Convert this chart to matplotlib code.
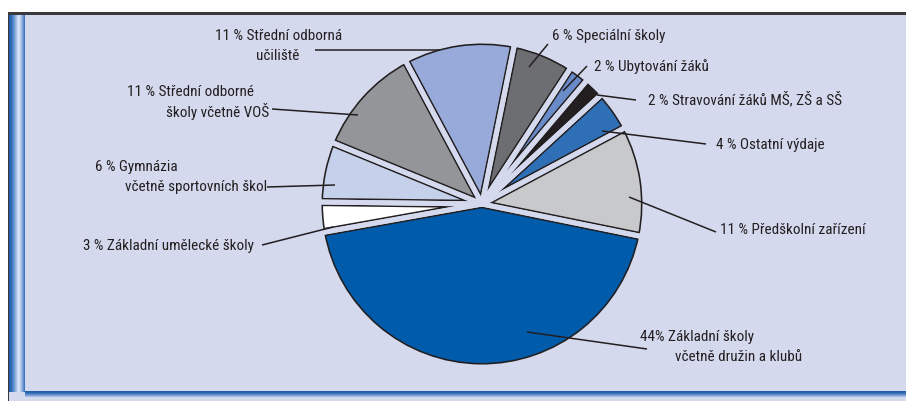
import numpy as np
import matplotlib
matplotlib.use("Agg")
import matplotlib.pyplot as plt
from matplotlib import font_manager as fm
from matplotlib.patches import Wedge, Rectangle
from matplotlib.colors import LinearSegmentedColormap

# shares of school spending (%), counter-clockwise from the right side
labels = [
    ["11 % Předškolní zařízení"],
    ["4 % Ostatní výdaje"],
    ["2 % Stravování žáků MŠ, ZŠ a SŠ"],
    ["2 % Ubytování žáků"],
    ["6 % Speciální školy"],
    ["11 % Střední odborná", "učiliště"],
    ["11 % Střední odborné", "školy včetně VOŠ"],
    ["6 % Gymnázia", "včetně sportovních škol"],
    ["3 % Základní umělecké školy"],
    ["44% Základní školy", "včetně družin a klubů"],
]
values = [11, 4, 2, 2, 6, 11, 11, 6, 3, 44]
colors = ["#c8c9cb", "#2f6fb6", "#231f20", "#6a8bc9", "#6d6e71",
          "#97aad9", "#939598", "#c5d0ea", "#ffffff", "#005bab"]
explode = [0.035, 0.035, 0.035, 0.035, 0.035, 0.035, 0.035, 0.035, 0.035, 0.055]

# text placement in picture pixels (left x, centre y of each line)
text_pos = [
    [(720, 230)],
    [(716, 145)],
    [(648, 99)],
    [(594, 67)],
    [(552, 36)],
    [(215, 36), (256, 56)],
    [(127, 92), (166, 111)],
    [(95, 167), (125, 187)],
    [(83, 246)],
    [(640, 337), (675, 357)],
]
leaders = [
    ((716, 233), (629, 198)),
    ((706, 145), (602, 132)),
    ((636, 101), (597, 96)),
    ((587, 67), (563, 92)),
    ((548, 45), (529, 68)),
    ((315, 51), (440, 51)),
    ((272, 110), (358, 116)),
    ((267, 188), (335, 186)),
    ((262, 246), (333, 228)),
    ((527, 333), (647, 350)),
]

W, H = 906, 402
bg = "#d4d9ee"
ink = "#231f20"

def Y(y):
    return H - y

# pick a narrow face if one is installed
fonts = fm.fontManager.ttflist
names = {f.name for f in fonts}
font_kw = dict(family="Roboto", fontsize=9.8)
for cand in ["Liberation Sans Narrow", "Roboto Condensed", "Open Sans Condensed"]:
    if cand in names:
        font_kw = dict(family=cand, fontsize=10.9)
        break
else:
    if any(f.name == "DejaVu Sans" and f.stretch in ("condensed", "semi-condensed")
           for f in fonts):
        font_kw = dict(family="DejaVu Sans", fontstretch="condensed", fontsize=10)

fig = plt.figure(figsize=(W / 100, H / 100), dpi=100)
ax = fig.add_axes([0, 0, 1, 1])
ax.set_facecolor(bg)

cx, cy, R = 482, Y(205), 163
wedges, _ = ax.pie(values, colors=colors, startangle=-11.5, counterclock=True,
                   radius=R, center=(cx, cy), explode=explode, frame=True,
                   wedgeprops=dict(linewidth=0, zorder=1))

# dark rim inside each slice, then background-coloured gap around it
for w in wedges:
    rim = Wedge(w.center, w.r, w.theta1, w.theta2, facecolor="none",
                edgecolor=ink, linewidth=5.9, zorder=2)
    ax.add_patch(rim)
    rim.set_clip_path(w)
for w in wedges:
    gap = Wedge(w.center, w.r, w.theta1, w.theta2, facecolor="none",
                edgecolor=bg, linewidth=3.6, joinstyle="round", zorder=3)
    ax.add_patch(gap)

# leader lines and labels
for (p1, p2) in leaders:
    ax.plot([p1[0], p2[0]], [Y(p1[1]), Y(p2[1])], color=ink, lw=1.1,
            solid_capstyle="butt", zorder=4)
for lines, pos in zip(labels, text_pos):
    for line, (x, y) in zip(lines, pos):
        ax.text(x, Y(y), line, ha="left", va="center", color=ink, zorder=5,
                **font_kw)

# frame: white margins, dark top rule, blue bars on the left and bottom
ax.add_patch(Rectangle((0, Y(13)), W, 13, facecolor="white", lw=0, zorder=6))
ax.add_patch(Rectangle((0, 0), 8, H, facecolor="white", lw=0, zorder=6))
ax.add_patch(Rectangle((8, Y(15.5)), W - 8, 2.5, facecolor="#3a3a3c", lw=0, zorder=7))
ax.add_patch(Rectangle((7.5, 0), 1.5, Y(13), facecolor="#3a3a3c", lw=0, zorder=7))

left_cmap = LinearSegmentedColormap.from_list(
    "lbar", ["#1d5aa6", "#3c79c2", "#8eaddf", "#e3eaf8", "#9fb9e3", "#2f6db6"])
ax.imshow(np.linspace(0, 1, 64)[None, :], cmap=left_cmap, aspect="auto",
          extent=(9, 25, Y(393), Y(15.5)), zorder=6, interpolation="bilinear")
bottom_cmap = LinearSegmentedColormap.from_list(
    "bbar", ["#1d58a4", "#2f6cb5", "#6f93d0", "#b7c8ea"])
ax.imshow(np.linspace(0, 1, 32)[:, None], cmap=bottom_cmap, aspect="auto",
          extent=(25, W, Y(398), Y(392)), zorder=6, interpolation="bilinear")

ax.set_xlim(0, W)
ax.set_ylim(0, H)
ax.set_aspect("auto")
ax.axis("off")
fig.patch.set_facecolor(bg)

fig.savefig("out.png", dpi=100, facecolor=bg)
